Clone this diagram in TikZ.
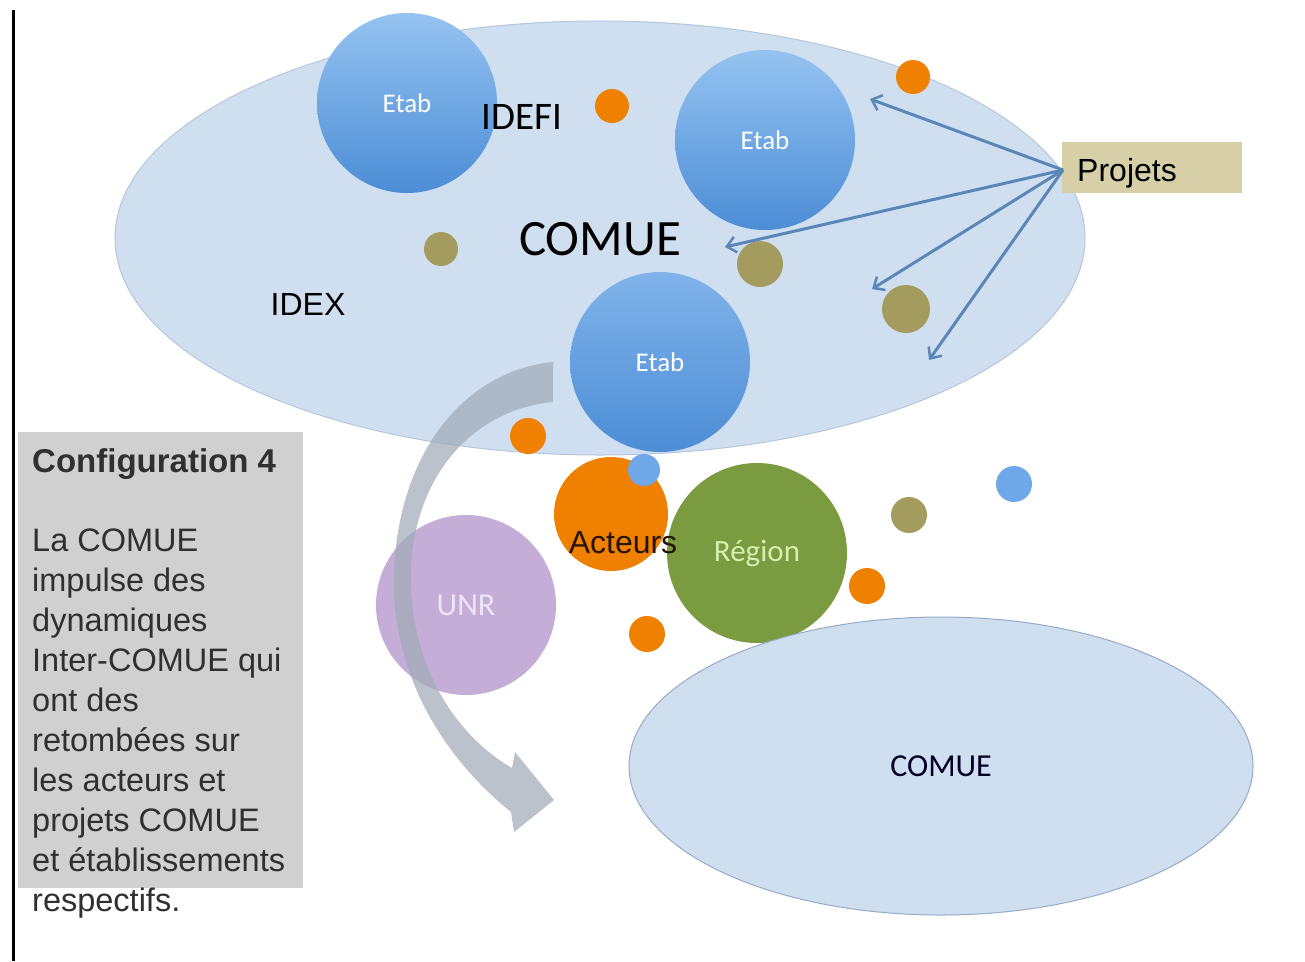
\documentclass[tikz,border=0pt]{standalone}
\usepackage{fontspec}
\setmainfont{Liberation Sans}
\newfontfamily\calib{Carlito}
\usetikzlibrary{shapes.geometric,arrows.meta}
\definecolor{ellfill}{HTML}{CFDFF0}
\definecolor{elldraw}{HTML}{B3C7DE}
\definecolor{ellbot}{HTML}{95ABC8}
\definecolor{etabtop}{HTML}{95C3F1}
\definecolor{etabbot}{HTML}{4C8DD6}
\definecolor{etabmid}{HTML}{6AA5E6}
\definecolor{orangec}{HTML}{EF8000}
\definecolor{olivec}{HTML}{A39C5E}
\definecolor{bluedot}{HTML}{6FA8E8}
\definecolor{greenc}{HTML}{7A9B3F}
\definecolor{greentext}{HTML}{D6EFB0}
\definecolor{purplec}{HTML}{C4AED8}
\definecolor{purpletext}{HTML}{EEE4F6}
\definecolor{projfill}{HTML}{D7CFA7}
\definecolor{arrowc}{HTML}{5A86B8}
\definecolor{curvec}{HTML}{A2ABB8}
\definecolor{boxgray}{HTML}{D0D0D0}
\definecolor{textgray}{HTML}{303030}
\begin{document}
\begin{tikzpicture}[x=1bp,y=-1bp,
  spot/.style={circle,inner sep=0pt,minimum size=#1},
  etabc/.style={circle,inner sep=0pt,minimum size=180bp,top color=etabtop,bottom color=etabbot,
     text=white,font=\calib\fontsize{27bp}{30bp}\selectfont},
  orangedot/.style={spot=#1,fill=orangec},
  olivedot/.style={spot=#1,fill=olivec},
  bluedotst/.style={spot=#1,fill=bluedot},
  arial/.style={font=\fontsize{32bp}{38bp}\selectfont,text=black},
  caliblabel/.style={font=\calib\fontsize{#1}{#1}\selectfont},
  projarrow/.style={draw=arrowc,line width=3bp,-{Straight Barb[length=9bp,width=16bp,line width=2.5bp]}}
]
\useasboundingbox (0,0) rectangle (1305,961);
\fill[white] (0,0) rectangle (1305,961);

% left rule
\draw[line width=3bp,black] (13.5,10) -- (13.5,961);

% big ellipse
\node[ellipse,fill=ellfill,draw=elldraw,line width=1bp,minimum width=970bp,minimum height=434bp,inner sep=0pt] (comueA) at (600,238) {};

% Etab circles
\node[etabc] (etab1) at (407,103) {\raisebox{-2bp}{Etab}};
\node[etabc] (etab2) at (765,140) {\raisebox{-2bp}{Etab}};
\node[etabc,top color=etabmid!85!white,bottom color=etabbot] (etab3) at (660,362) {Etab};

% labels in big ellipse
\node[caliblabel=39bp,text=black,inner sep=0pt] (idefi) at (522,117) {IDEFI};
\node[caliblabel=51bp,text=black,inner sep=0pt] (comuetxt) at (600,239) {COMUE};
\node[arial,inner sep=0pt] (idex) at (308,304) {IDEX};

% small dots in big ellipse
\node[orangedot=34bp] (o1) at (612,106) {};
\node[orangedot=34bp] (o2) at (913,77) {};
\node[olivedot=34bp] (g1) at (441,249) {};
\node[olivedot=46bp] (g2) at (760,264) {};
\node[olivedot=48bp] (g3) at (906,309) {};

% Projets box and arrows
\node[fill=projfill,minimum height=51bp,text width=150bp,inner xsep=15bp,align=left,
      text height=28bp,text depth=0bp,
      font=\fontsize{32bp}{38bp}\selectfont,anchor=west] (projets) at (1062,167) {Projets};
\coordinate (pa1) at (870,99);
\coordinate (pa2) at (725,247);
\coordinate (pa3) at (872,289);
\coordinate (pa4) at (929,360);
\coordinate (ps) at (1063,170);
\draw[projarrow] (ps) -- (pa1);
\draw[projarrow] (ps) -- (pa2);
\draw[projarrow] (ps) -- (pa3);
\draw[projarrow] (ps) -- (pa4);

% lower cluster
\node[orangedot=36bp] (o3) at (528,436) {};
\node[spot=180bp,fill=purplec,text=purpletext,caliblabel=32bp] (unr) at (466,605) {UNR};
\node[orangedot=114bp] (acteurs) at (611,514) {};
\node[spot=180bp,fill=greenc,text=greentext,caliblabel=31bp] (region) at (757,553) {\raisebox{-3bp}{Région}};
\node[arial,inner sep=0pt,text=black!85!orange] (acteurstxt) at (623,543) {Acteurs};
\node[bluedotst=32bp] (b1) at (644,470) {};
\node[olivedot=36bp] (g4) at (909,515) {};
\node[bluedotst=36bp] (b2) at (1014,484) {};
\node[orangedot=36bp] (o4) at (867,586) {};
\node[orangedot=36bp] (o5) at (647,634) {};

% curved grey arrow
\fill[curvec,opacity=0.72] (553,362) .. controls (470,370) and (400,445) .. (394,570)
   .. controls (390,660) and (432,748) .. (511,812) -- (514,832) -- (554,800) -- (515,752) -- (512,768)
   .. controls (455,735) and (410,665) .. (411,575)
   .. controls (412,480) and (470,410) .. (553,402) -- cycle;

% bottom ellipse
\node[ellipse,fill=ellfill,draw=ellbot,line width=1bp,minimum width=624bp,minimum height=298bp,inner sep=0pt,
      caliblabel=32bp,text=black!85!blue] (comueB) at (941,766) {COMUE};

% configuration box
\fill[boxgray] (18,432) rectangle (303,888);
\node[anchor=base west,inner sep=0pt,font=\bfseries\fontsize{33bp}{40bp}\selectfont,text=textgray] (cfgtitle) at (32,472) {Configuration 4};
\node[anchor=north west,inner sep=0pt,align=left,font=\fontsize{32.5bp}{40bp}\selectfont,text=textgray] (cfgbody) at (32,529)
 {La COMUE\\impulse des\\dynamiques\\Inter-COMUE qui\\ont des\\retombées sur\\les acteurs et\\projets COMUE\\et établissements\\respectifs.};
\end{tikzpicture}
\end{document}
